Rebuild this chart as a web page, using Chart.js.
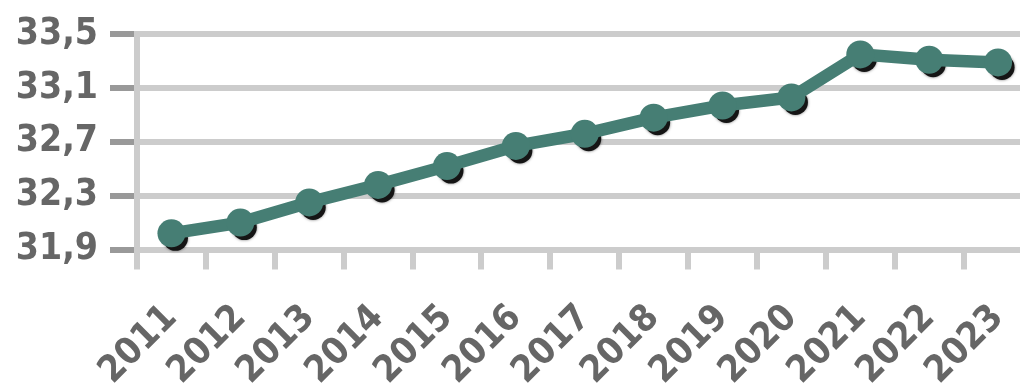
<!DOCTYPE html>
<html>
<head>
<meta charset="utf-8">
<title>31,9 – 33,5</title>
<script src="https://cdn.jsdelivr.net/npm/chart.js@4/dist/chart.umd.min.js"></script>
<style>
  html, body { margin: 0; padding: 0; background: #fff; overflow: hidden; }
  #wrap { width: 1057px; height: 385px; }
</style>
</head>
<body>
<div id="wrap"><canvas id="c" width="1057" height="385"></canvas></div>
<script>
// Years on the category axis
const years = ['2011', '2012', '2013', '2014', '2015', '2016', '2017',
               '2018', '2019', '2020', '2021', '2022', '2023'];
// Yearly values
const values = [32.02, 32.10, 32.25, 32.38, 32.52, 32.67, 32.76,
                32.88, 32.97, 33.03, 33.35, 33.31, 33.29];
// Value axis range and step
const yMin = 31.9;
const yMax = 33.5;
const yStep = 0.4;

const TEAL = '#467e74';
const LABEL = '#666666';
const GRID = '#cccccc';
const FONT = "'DejaVu Sans Condensed', 'DejaVu Sans', sans-serif";

// Dark drop shadow behind every marker, placed from the library's point positions
const markerShadow = {
  id: 'markerShadow',
  beforeDatasetsDraw(chart) {
    const ctx = chart.ctx;
    const meta = chart.getDatasetMeta(0);
    ctx.save();
    ctx.fillStyle = '#151515';
    ctx.shadowColor = 'rgba(0,0,0,0.55)';
    ctx.shadowBlur = 3;
    meta.data.forEach(pt => {
      ctx.beginPath();
      ctx.arc(pt.x + 4, pt.y + 5, 12.5, 0, Math.PI * 2);
      ctx.fill();
    });
    ctx.restore();
  }
};

new Chart(document.getElementById('c'), {
  type: 'line',
  data: {
    labels: years,
    datasets: [{
      data: values,
      borderColor: TEAL,
      backgroundColor: TEAL,
      borderWidth: 12.5,
      pointRadius: 14,
      pointBorderWidth: 0,
      pointBackgroundColor: TEAL,
      tension: 0,
      fill: false
    }]
  },
  options: {
    responsive: false,
    animation: false,
    events: [],
    layout: { padding: { left: 0, right: 6, top: 5, bottom: 0 } },
    plugins: { legend: { display: false }, tooltip: { enabled: false } },
    scales: {
      x: {
        offset: true,
        afterFit: s => { s.height = 135.5; },
        grid: {
          offset: true,
          drawOnChartArea: false,
          drawTicks: true,
          tickLength: 20,
          tickWidth: 6,
          tickColor: GRID,
          color: GRID,
          lineWidth: 6
        },
        border: { display: false },
        ticks: {
          autoSkip: false,
          minRotation: 45,
          maxRotation: 45,
          padding: 27,
          color: LABEL,
          font: { family: FONT, size: 37, weight: 'bold' }
        }
      },
      y: {
        min: yMin,
        max: yMax,
        afterFit: s => { s.width = 137; },
        grid: {
          color: GRID,
          lineWidth: 6,
          drawTicks: true,
          tickLength: 27,
          tickColor: '#999999',
          tickWidth: 6
        },
        border: { display: true, color: GRID, width: 6 },
        ticks: {
          autoSkip: false,
          stepSize: yStep,
          padding: 12,
          color: LABEL,
          font: { family: FONT, size: 37, weight: 'bold' },
          callback: v => v.toFixed(1).replace('.', ',')
        }
      }
    }
  },
  plugins: [markerShadow]
});
</script>
</body>
</html>
